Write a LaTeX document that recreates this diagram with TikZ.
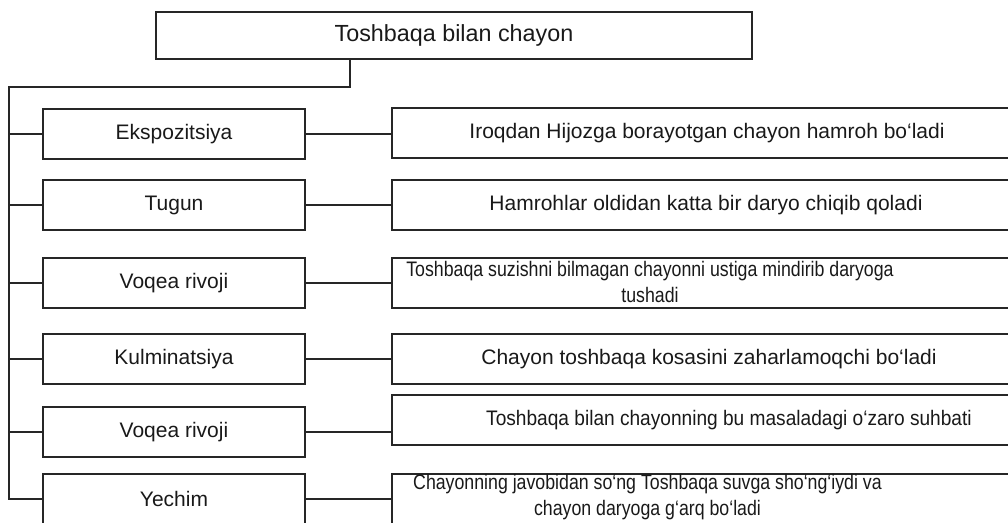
\documentclass[tikz,border=0pt]{standalone}
\usepackage{fontspec}
\setmainfont{Liberation Sans}
\newfontfamily\narrowfont[FakeStretch = 0.845]{Liberation Sans}
\newfontfamily\slimfont[FakeStretch = 0.91]{Liberation Sans}

\begin{document}
\begin{tikzpicture}[x = 0.75pt, y = -0.75pt, line width = 1.5pt, black!85,
  box/.style = {draw, rectangle, inner sep = 0pt, text = black!90,
    font = \fontsize{15.75}{19.5}\selectfont, align = center},
  leftbox/.style = {box, minimum width = 196.5pt, minimum height = 37.5pt},
  rightbox/.style = {box, minimum width = 467.25pt, minimum height = 37.5pt},
  boxtext/.style = {inner sep = 0pt, text = black!90,
    font = \fontsize{15.75}{19.5}\selectfont, align = center}]
\useasboundingbox (0, 0) rectangle (1008, 523);
\clip (0, 0) rectangle (1008, 523);

% Title
\node[box, minimum width = 447pt, minimum height = 35.25pt,
  font = \fontsize{17.5}{21}\selectfont] (title) at (454, 35.5) {Toshbaqa bilan chayon};
\coordinate (stem) at (350, 0);
\coordinate (trunk) at (9, 87);

% Left column
\node[leftbox] (ekspozitsiya) at (174, 134) {Ekspozitsiya};
\node[leftbox] (tugun) at (174, 205) {Tugun};
\node[leftbox] (rivoji) at (174, 283.5) {Voqea rivoji};
\node[leftbox] (kulminatsiya) at (174, 359.5) {Kulminatsiya};
\node[leftbox] (rivojib) at (174, 432.5) {Voqea rivoji};
\node[leftbox] (yechim) at (174, 499) {Yechim};

% Right column
\node[rightbox] (iroqdan) at (703.5, 133.5) {};
\node[boxtext] at (707, 133.5) {Iroqdan Hijozga borayotgan chayon hamroh bo‘ladi};
\node[rightbox] (hamrohlar) at (703.5, 205) {};
\node[boxtext] at (706, 205) {Hamrohlar oldidan katta bir daryo chiqib qoladi};
\node[rightbox] (suzish) at (703.5, 283) {};
\node[boxtext, font = \narrowfont\fontsize{15.75}{19.5}\selectfont] at (650, 282)
  {Toshbaqa suzishni bilmagan chayonni ustiga mindirib daryoga\\ tushadi};
\node[rightbox] (kosa) at (703.5, 359.5) {};
\node[boxtext] at (709, 359.5) {Chayon toshbaqa kosasini zaharlamoqchi bo‘ladi};
\node[rightbox] (suhbat) at (703.5, 420.5) {};
\node[boxtext, font = \slimfont\fontsize{15.75}{19.5}\selectfont] at (729, 420.5)
  {Toshbaqa bilan chayonning bu masaladagi o‘zaro suhbati};
\node[rightbox] (javob) at (703.5, 499) {};
\node[boxtext, font = \narrowfont\fontsize{15.75}{19.5}\selectfont] at (647.5, 497)
  {Chayonning javobidan so‘ng Toshbaqa suvga sho‘ng‘iydi va\\ chayon daryoga g‘arq bo‘ladi};

% Trunk
\draw (title.south -| stem) |- (trunk) |- (yechim.west);
% Branches
\draw (ekspozitsiya.west -| trunk) -- (ekspozitsiya.west);
\draw (tugun.west -| trunk) -- (tugun.west);
\draw (rivoji.west -| trunk) -- (rivoji.west);
\draw (kulminatsiya.west -| trunk) -- (kulminatsiya.west);
\draw (rivojib.west -| trunk) -- (rivojib.west);
% Links
\draw (ekspozitsiya.east) -- (ekspozitsiya.east -| iroqdan.west);
\draw (tugun.east) -- (tugun.east -| hamrohlar.west);
\draw (rivoji.east) -- (rivoji.east -| suzish.west);
\draw (kulminatsiya.east) -- (kulminatsiya.east -| kosa.west);
\draw (rivojib.east) -- (rivojib.east -| suhbat.west);
\draw (yechim.east) -- (yechim.east -| javob.west);
\end{tikzpicture}
\end{document}
